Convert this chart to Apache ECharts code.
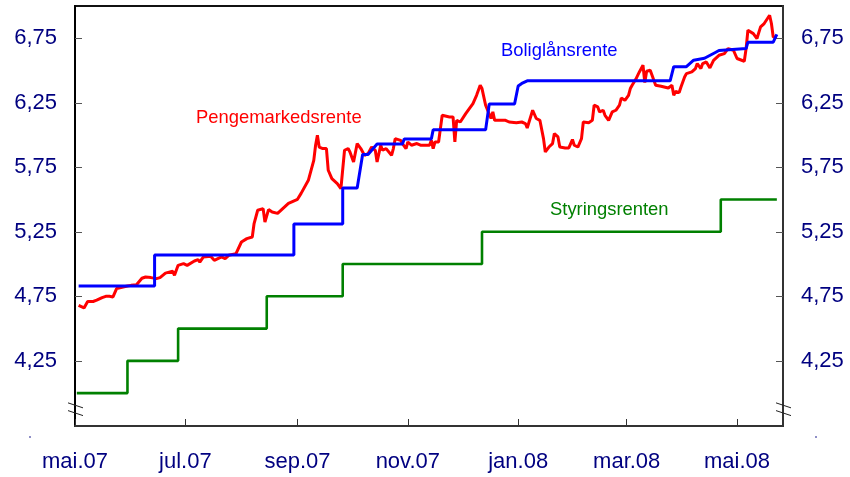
<!DOCTYPE html>
<html><head><meta charset="utf-8">
<script src="https://cdn.jsdelivr.net/npm/echarts@6/dist/echarts.min.js"></script>
<style>html,body{margin:0;padding:0;background:#fff}#c{width:850px;height:477px}</style>
</head><body><div id="c"></div>
<script>
// ---- tick labels ----
const xTickDates = ['2007-05-01','2007-07-01','2007-09-01','2007-11-01','2008-01-01','2008-03-01','2008-05-01'];
const xTickLabels = ['mai.07','jul.07','sep.07','nov.07','jan.08','mar.08','mai.08'];
const yTickValues = [4.25, 4.75, 5.25, 5.75, 6.25, 6.75];
const yTickLabels = ['4,25','4,75','5,25','5,75','6,25','6,75'];

// ---- series names ----
const seriesNames = ['Pengemarkedsrente','Boliglånsrente','Styringsrenten'];

// ---- Pengemarkedsrente (red) ----
const redDates = ['2007-05-03','2007-05-06','2007-05-08','2007-05-09','2007-05-11','2007-05-13','2007-05-16','2007-05-18','2007-05-20','2007-05-22',
'2007-05-24','2007-05-27','2007-05-30','2007-06-01','2007-06-04','2007-06-07','2007-06-09','2007-06-12','2007-06-15','2007-06-17',
'2007-06-20','2007-06-24','2007-06-25','2007-06-27','2007-06-30','2007-07-02','2007-07-06','2007-07-08','2007-07-09','2007-07-11',
'2007-07-15','2007-07-17','2007-07-18','2007-07-21','2007-07-23','2007-07-25','2007-07-29','2007-07-30','2007-08-01','2007-08-04',
'2007-08-07','2007-08-08','2007-08-10','2007-08-11','2007-08-13','2007-08-14','2007-08-16','2007-08-18','2007-08-21','2007-08-24',
'2007-08-27','2007-09-01','2007-09-03','2007-09-07','2007-09-10','2007-09-11','2007-09-12','2007-09-13','2007-09-15','2007-09-17',
'2007-09-18','2007-09-19','2007-09-20','2007-09-23','2007-09-25','2007-09-26','2007-09-27','2007-09-29','2007-09-30','2007-10-02',
'2007-10-03','2007-10-04','2007-10-06','2007-10-08','2007-10-10','2007-10-12','2007-10-14','2007-10-15','2007-10-17','2007-10-18',
'2007-10-20','2007-10-23','2007-10-24','2007-10-25','2007-10-28','2007-10-29','2007-10-31','2007-11-01','2007-11-03','2007-11-06',
'2007-11-08','2007-11-10','2007-11-13','2007-11-14','2007-11-15','2007-11-16','2007-11-18','2007-11-20','2007-11-21','2007-11-24',
'2007-11-26','2007-11-27','2007-11-28','2007-11-30','2007-12-01','2007-12-03','2007-12-05','2007-12-07','2007-12-09','2007-12-11',
'2007-12-12','2007-12-14','2007-12-15','2007-12-17','2007-12-18','2007-12-19','2007-12-25','2007-12-27','2007-12-31','2008-01-03',
'2008-01-05','2008-01-06','2008-01-09','2008-01-11','2008-01-13','2008-01-15','2008-01-16','2008-01-18','2008-01-20','2008-01-21',
'2008-01-23','2008-01-24','2008-01-27','2008-01-29','2008-01-31','2008-02-01','2008-02-03','2008-02-05','2008-02-06','2008-02-09',
'2008-02-11','2008-02-12','2008-02-14','2008-02-15','2008-02-17','2008-02-18','2008-02-20','2008-02-22','2008-02-24','2008-02-26',
'2008-02-27','2008-02-29','2008-03-02','2008-03-03','2008-03-04','2008-03-06','2008-03-08','2008-03-10','2008-03-11','2008-03-12',
'2008-03-14','2008-03-15','2008-03-17','2008-03-20','2008-03-24','2008-03-26','2008-03-27','2008-03-28','2008-03-30','2008-03-31',
'2008-04-02','2008-04-03','2008-04-06','2008-04-08','2008-04-09','2008-04-11','2008-04-12','2008-04-14','2008-04-16','2008-04-18',
'2008-04-19','2008-04-21','2008-04-22','2008-04-24','2008-04-26','2008-04-27','2008-04-29','2008-05-01','2008-05-02','2008-05-05',
'2008-05-06','2008-05-07','2008-05-10','2008-05-12','2008-05-14','2008-05-16','2008-05-19','2008-05-20','2008-05-21','2008-05-22',
'2008-05-23'];
const redValues = [4.68,4.66,4.71,4.72,4.71,4.72,4.74,4.75,4.75,4.745,
4.81,4.82,4.83,4.835,4.84,4.89,4.90,4.895,4.887,4.895,
4.93,4.944,4.913,4.99,5.003,4.99,5.024,5.034,5.016,5.055,
5.06,5.029,5.042,5.055,5.042,5.068,5.081,5.093,5.171,5.197,
5.21,5.314,5.417,5.422,5.43,5.326,5.422,5.403,5.393,5.432,
5.471,5.502,5.548,5.649,5.804,5.921,5.998,5.907,5.895,5.895,
5.727,5.714,5.662,5.624,5.585,5.585,5.882,5.895,5.869,5.791,
5.804,5.934,5.895,5.843,5.856,5.907,5.882,5.791,5.921,5.882,
5.895,5.843,5.895,5.972,5.959,5.934,5.895,5.946,5.921,5.934,
5.921,5.921,5.921,5.959,5.895,5.946,5.946,6.153,6.153,6.14,
6.14,5.946,6.114,6.101,6.089,6.166,6.205,6.244,6.308,6.386,
6.36,6.231,6.231,6.128,6.179,6.114,6.114,6.101,6.096,6.101,
6.089,6.055,6.192,6.128,6.114,5.972,5.869,5.907,5.934,6.011,
5.985,5.907,5.90,5.90,5.965,5.921,5.907,5.972,6.101,6.096,
6.114,6.231,6.218,6.179,6.192,6.153,6.114,6.179,6.192,6.231,
6.287,6.269,6.308,6.36,6.386,6.432,6.489,6.541,6.407,6.494,
6.502,6.502,6.386,6.378,6.365,6.386,6.308,6.339,6.329,6.372,
6.45,6.476,6.489,6.515,6.554,6.515,6.554,6.566,6.52,6.579,
6.593,6.618,6.605,6.631,6.67,6.683,6.657,6.593,6.579,6.572,
6.67,6.812,6.786,6.748,6.838,6.864,6.928,6.864,6.76,6.748,
6.76];

// ---- Boliglånsrente (blue) ----
const blueDates = ['2007-05-03','2007-06-14','2007-06-14','2007-08-30','2007-08-30','2007-09-26','2007-09-26','2007-10-04','2007-10-07','2007-10-10',
'2007-10-15','2007-10-29','2007-10-30','2007-11-14','2007-11-15','2007-12-14','2007-12-16','2007-12-30','2008-01-01','2008-01-03',
'2008-01-06','2008-03-25','2008-03-27','2008-04-03','2008-04-07','2008-04-13','2008-04-19','2008-04-21','2008-05-06','2008-05-07',
'2008-05-21','2008-05-23'];
const blueValues = [4.83,4.83,5.07,5.07,5.31,5.31,5.59,5.59,5.85,5.85,
5.93,5.93,5.97,5.97,6.04,6.04,6.24,6.24,6.38,6.40,
6.42,6.42,6.53,6.53,6.58,6.595,6.64,6.655,6.67,6.72,
6.72,6.78];

// ---- Styringsrenten (green) ----
const greenDates = ['2007-05-02','2007-05-30','2007-06-27','2007-08-15','2007-09-26','2007-12-12','2008-04-22','2008-05-23'];
const greenValues = [4.00,4.25,4.50,4.75,5.00,5.25,5.50,5.50];

function ts(s){ const p = s.split('-'); return Date.UTC(+p[0], +p[1]-1, +p[2]); }
function pairs(d, v){ return d.map((x,i)=>[ts(x), v[i]]); }

const xTickTs = xTickDates.map(ts);
const FONT = '"Liberation Sans", Arial, sans-serif';
const NAVY = '#000080';
const DAY = 86400000;
const X_MIN = ts('2007-05-01');
const X_MAX = ts('2008-05-26') + 0.4*DAY;

const chart = echarts.init(document.getElementById('c'), null, {renderer:'canvas'});

const yAxisBase = (pos, lineColor) => ({
  type:'value', position:pos, min:3.745, max:7.0,
  axisLine:{show:true, lineStyle:{color:lineColor, width:2}},
  axisTick:{show:true, inside:true, length:7, customValues:yTickValues, lineStyle:{color:'#555', width:1}},
  axisLabel:{show:true, customValues:yTickValues, margin:18, fontSize:22, fontFamily:FONT, color:NAVY,
    formatter:(v)=>{ const i = yTickValues.findIndex(t=>Math.abs(t-v)<1e-6); return i>=0 ? yTickLabels[i] : ''; }},
  splitLine:{show:false}
});

chart.setOption({
  animation:false,
  backgroundColor:'#fff',
  grid:{left:75, right:67, top:6, bottom:51, show:true, borderColor:'#111', borderWidth:2, containLabel:false},
  xAxis:{
    type:'value', min:X_MIN, max:X_MAX,
    axisLine:{show:true, onZero:false, lineStyle:{color:'#333', width:2}},
    axisTick:{show:true, inside:true, length:7, customValues:xTickTs, lineStyle:{color:'#333', width:1}},
    axisLabel:{show:true, customValues:xTickTs, margin:25, fontSize:22, fontFamily:FONT, color:NAVY,
      formatter:(v)=>{ const i = xTickTs.findIndex(t=>Math.abs(t-v)<DAY); return i>=0 ? xTickLabels[i] : ''; }},
    splitLine:{show:false}
  },
  yAxis:[yAxisBase('left','#000'), yAxisBase('right','#333')],
  series:[
    {name:seriesNames[2], type:'line', step:'end', data:pairs(greenDates, greenValues), showSymbol:false,
      lineStyle:{color:'#008000', width:2.6}, itemStyle:{color:'#008000'}},
    {name:seriesNames[0], type:'line', data:pairs(redDates, redValues), showSymbol:false,
      lineStyle:{color:'#ff0000', width:3}, itemStyle:{color:'#ff0000'}},
    {name:seriesNames[1], type:'line', data:pairs(blueDates, blueValues), showSymbol:false,
      lineStyle:{color:'#0000ff', width:3}, itemStyle:{color:'#0000ff'}}
  ]
});

// annotations and axis-break marks
const yA = chart.convertToPixel({yAxisIndex:0}, 3.905);
const yB = chart.convertToPixel({yAxisIndex:0}, 3.845);
const xL = chart.convertToPixel({xAxisIndex:0}, X_MIN);
const xR = chart.convertToPixel({xAxisIndex:0}, X_MAX);
function brk(x){
  return [yA, yB].map(y=>({type:'line', shape:{x1:x-7, y1:y-2.5, x2:x+8, y2:y+2.5}, style:{stroke:'#222', lineWidth:1}, z:100}));
}
chart.setOption({
  graphic:[
    ...brk(xL), ...brk(xR),
    {type:'circle', shape:{cx:30, cy:437, r:0.8}, style:{fill:NAVY}},
    {type:'circle', shape:{cx:816, cy:437, r:0.8}, style:{fill:NAVY}},
    {type:'text', left:196, top:109, style:{text:seriesNames[0], fill:'#ff0000', font:'18.4px '+FONT}, z:100},
    {type:'text', left:501, top:42, style:{text:seriesNames[1], fill:'#0000ff', font:'18.4px '+FONT}, z:100},
    {type:'text', left:550, top:201, style:{text:seriesNames[2], fill:'#008000', font:'18.4px '+FONT}, z:100}
  ]
});
</script></body></html>
